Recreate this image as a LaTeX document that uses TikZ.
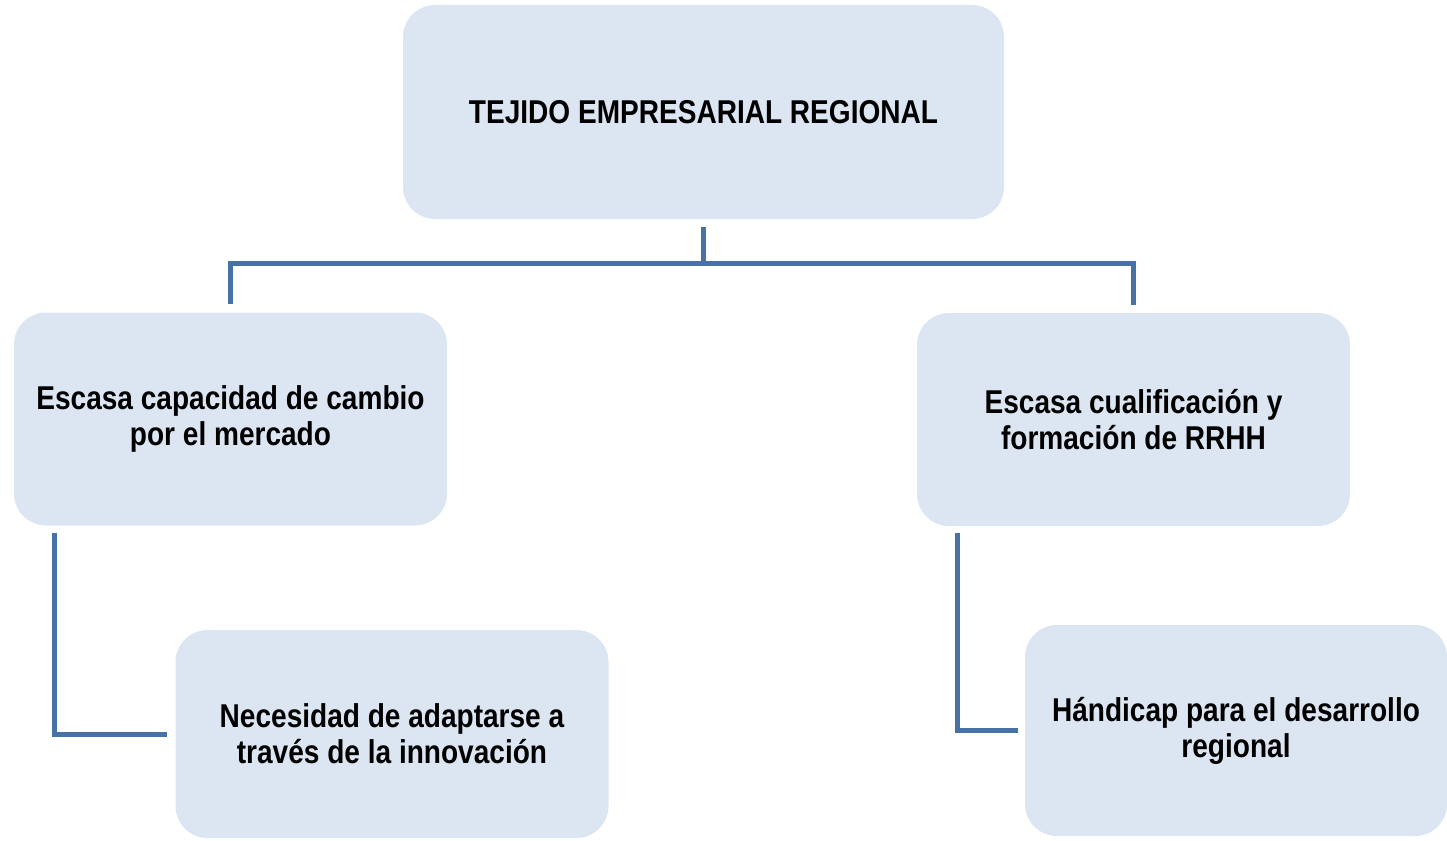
\documentclass[tikz,border=0pt]{standalone}
\usepackage{fontspec}
\newfontfamily\narrowfont{Liberation Sans}[FakeStretch=0.85]
\usepackage{xcolor}
\usepackage{tikz}
\usetikzlibrary{positioning}
\definecolor{boxfill}{HTML}{DCE6F2}
\definecolor{linkblue}{RGB}{70,114,166}
\begin{document}
\begin{tikzpicture}[
  x=1pt,y=-1pt,
  box/.style={fill=boxfill,rounded corners=32pt,align=center,
              minimum width=433pt,minimum height=213pt,inner sep=0pt,
              font=\narrowfont\bfseries\fontsize{33}{36}\selectfont},
  link/.style={draw=linkblue,line width=5pt}
]
\useasboundingbox (0,0) rectangle (1447,840);
\node[box,minimum width=601pt,minimum height=214pt] (top) at (703.5,112) {TEJIDO EMPRESARIAL REGIONAL};
\node[box] (left) at (230.5,419) {Escasa capacidad de cambio\\por el mercado};
\node[box] (right) at (1133.5,419.5) {Escasa cualificación y\\formación de RRHH};
\node[box,minimum height=208pt] (innov) at (392,734) {Necesidad de adaptarse a\\través de la innovación};
\node[box,minimum width=422pt,minimum height=211pt] (handicap) at (1236,730.5) {Hándicap para el desarrollo\\regional};
\coordinate (bus) at (705,263);
\draw[link] ([yshift=-8pt]top.south) -- (top.south |- bus);
\draw[link] ([yshift=8pt]left.north) |- (bus) -| ([yshift=8pt]right.north);
\draw[link] ([xshift=41pt,yshift=-7pt]left.south west) |- ([xshift=-8pt]innov.west);
\draw[link] ([xshift=41pt,yshift=-7pt]right.south west) |- ([xshift=-7pt]handicap.west);
\end{tikzpicture}
\end{document}
